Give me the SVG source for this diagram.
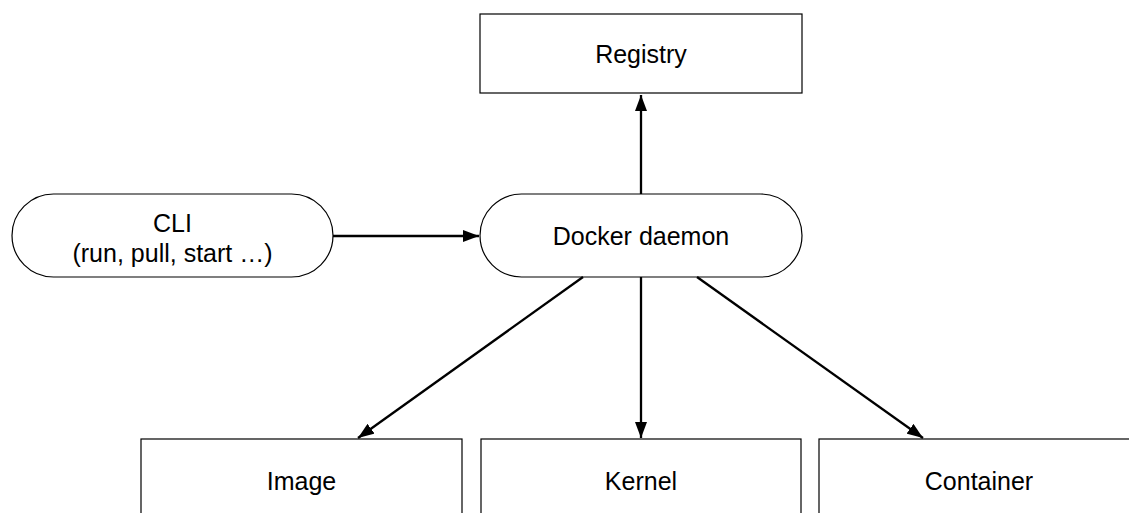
<svg xmlns="http://www.w3.org/2000/svg" width="1129" height="513" viewBox="0 0 1129 513">
<defs>
<marker id="arr" markerWidth="16" markerHeight="12" refX="16" refY="6" orient="auto" markerUnits="userSpaceOnUse">
<path d="M0,0 L16,6 L0,12 Z" fill="#000"/>
</marker>
<style>
.box{fill:#fff;stroke:#000;stroke-width:1.2}
.lbl{font-family:"Liberation Sans",Arial,sans-serif;font-size:25px;fill:#000;text-anchor:middle}
.edge{stroke:#000;stroke-width:2.3;fill:none;marker-end:url(#arr)}
</style>
</defs>
<rect width="1129" height="513" fill="#fff"/>
<g id="registry">
<rect class="box" x="480" y="14" width="322" height="79"/>
<text class="lbl" x="641" y="63">Registry</text>
</g>
<g id="cli">
<rect class="box" x="12" y="194" width="321" height="83" rx="41.5" ry="41.5"/>
<text class="lbl" x="172.5" y="232">CLI</text>
<text class="lbl" x="172.5" y="262">(run, pull, start …)</text>
</g>
<g id="daemon">
<rect class="box" x="480" y="194" width="322" height="83" rx="41.5" ry="41.5"/>
<text class="lbl" x="641" y="245">Docker daemon</text>
</g>
<g id="image">
<rect class="box" x="141" y="439" width="321" height="90"/>
<text class="lbl" x="301.5" y="490">Image</text>
</g>
<g id="kernel">
<rect class="box" x="481" y="439" width="320" height="90"/>
<text class="lbl" x="641" y="490">Kernel</text>
</g>
<g id="container">
<rect class="box" x="819" y="439" width="330" height="90"/>
<text class="lbl" x="979" y="490">Container</text>
</g>
<g id="connectors">
<line class="edge" x1="333" y1="236" x2="479" y2="236"/>
<line class="edge" x1="641" y1="194" x2="641" y2="95"/>
<line class="edge" x1="583" y1="277" x2="358" y2="438"/>
<line class="edge" x1="641" y1="277" x2="641" y2="438"/>
<line class="edge" x1="697" y1="277" x2="923" y2="438"/>
</g>
</svg>
